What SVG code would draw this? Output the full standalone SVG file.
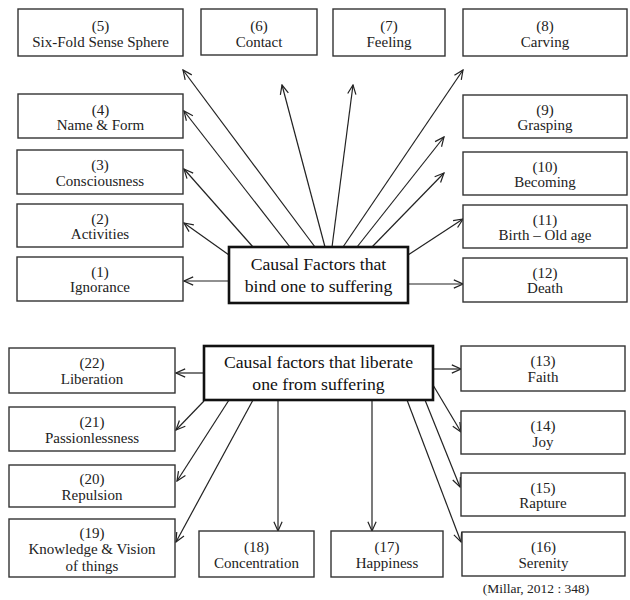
<svg xmlns="http://www.w3.org/2000/svg" width="630" height="600" viewBox="0 0 630 600">
  <style>
    text { font-family: 'Liberation Serif', 'Times New Roman', serif; text-anchor: middle; }
    .box { fill: #fff; stroke: #333; stroke-width: 1.4; }
    .hub { fill: #fff; stroke: #111; stroke-width: 2.6; }
    .lbl { font-size: 15px; fill: #222; }
    .hubtxt { font-size: 17.7px; fill: #111; }
    .cite { font-size: 13.5px; fill: #222; }
    .link { stroke: #222; stroke-width: 1.2; fill: none; marker-end: url(#arrow); }
  </style>
  <defs>
    <marker id="arrow" viewBox="0 0 12 12" refX="11" refY="6" markerWidth="11" markerHeight="11" markerUnits="userSpaceOnUse" orient="auto">
      <path d="M1,1.5 L11,6 L1,10.5" fill="none" stroke="#222" stroke-width="1.3"/>
    </marker>
  </defs>
  <rect width="630" height="600" fill="#fff"/>

  <!-- connectors -->
  <g id="connectors">
    <!-- binding factors -->
    <line class="link" x1="229" y1="281" x2="184" y2="281"/>
    <line class="link" x1="229" y1="255" x2="184" y2="223"/>
    <line class="link" x1="253" y1="247" x2="184" y2="169"/>
    <line class="link" x1="290" y1="247" x2="184" y2="111"/>
    <line class="link" x1="315" y1="247" x2="183" y2="70"/>
    <line class="link" x1="325" y1="247" x2="282" y2="85"/>
    <line class="link" x1="332" y1="247" x2="353" y2="85"/>
    <line class="link" x1="343" y1="247" x2="463" y2="70"/>
    <line class="link" x1="357" y1="247" x2="444" y2="137"/>
    <line class="link" x1="372" y1="247" x2="444" y2="173"/>
    <line class="link" x1="408" y1="255" x2="463" y2="219"/>
    <line class="link" x1="408" y1="284" x2="463" y2="284"/>
    <!-- liberating factors -->
    <line class="link" x1="204" y1="373" x2="176" y2="373"/>
    <line class="link" x1="204" y1="401" x2="176" y2="430"/>
    <line class="link" x1="229" y1="400" x2="177" y2="481"/>
    <line class="link" x1="253" y1="400" x2="176" y2="542"/>
    <line class="link" x1="278" y1="400" x2="278" y2="531"/>
    <line class="link" x1="372" y1="400" x2="372" y2="531"/>
    <line class="link" x1="407" y1="400" x2="461" y2="542"/>
    <line class="link" x1="425" y1="400" x2="460" y2="487"/>
    <line class="link" x1="433" y1="385" x2="461" y2="432"/>
    <line class="link" x1="433" y1="369" x2="461" y2="369"/>
  </g>

  <!-- hub: binding factors -->
  <g id="hub-bind">
    <rect class="hub" x="229" y="247" width="179" height="56"/>
    <text class="hubtxt" x="318.5" y="270">Causal Factors that</text>
    <text class="hubtxt" x="318.5" y="292">bind one to suffering</text>
  </g>

  <!-- hub: liberating factors -->
  <g id="hub-liberate">
    <rect class="hub" x="204" y="346" width="229" height="54"/>
    <text class="hubtxt" x="318.5" y="368">Causal factors that liberate</text>
    <text class="hubtxt" x="318.5" y="390">one from suffering</text>
  </g>

  <!-- top half nodes -->
  <g id="n5"><rect class="box" x="18" y="9" width="165" height="47"/><text class="lbl" x="100.5" y="31">(5)</text><text class="lbl" x="100.5" y="47">Six-Fold Sense Sphere</text></g>
  <g id="n6"><rect class="box" x="201" y="9" width="116" height="46"/><text class="lbl" x="259" y="31">(6)</text><text class="lbl" x="259" y="47">Contact</text></g>
  <g id="n7"><rect class="box" x="333" y="9" width="112" height="47"/><text class="lbl" x="389" y="31">(7)</text><text class="lbl" x="389" y="47">Feeling</text></g>
  <g id="n8"><rect class="box" x="463" y="9" width="164" height="47"/><text class="lbl" x="545" y="31">(8)</text><text class="lbl" x="545" y="47">Carving</text></g>
  <g id="n4"><rect class="box" x="18" y="94" width="165" height="44"/><text class="lbl" x="100.5" y="115">(4)</text><text class="lbl" x="100.5" y="130">Name &amp; Form</text></g>
  <g id="n9"><rect class="box" x="463" y="95" width="164" height="43"/><text class="lbl" x="545" y="115">(9)</text><text class="lbl" x="545" y="130">Grasping</text></g>
  <g id="n3"><rect class="box" x="17" y="150" width="166" height="44"/><text class="lbl" x="100" y="170">(3)</text><text class="lbl" x="100" y="186">Consciousness</text></g>
  <g id="n10"><rect class="box" x="463" y="152" width="164" height="43"/><text class="lbl" x="545" y="172">(10)</text><text class="lbl" x="545" y="187">Becoming</text></g>
  <g id="n2"><rect class="box" x="17" y="204" width="166" height="43"/><text class="lbl" x="100" y="224">(2)</text><text class="lbl" x="100" y="239">Activities</text></g>
  <g id="n11"><rect class="box" x="463" y="205" width="164" height="43"/><text class="lbl" x="545" y="225">(11)</text><text class="lbl" x="545" y="240">Birth – Old age</text></g>
  <g id="n1"><rect class="box" x="17" y="257" width="166" height="44"/><text class="lbl" x="100" y="277">(1)</text><text class="lbl" x="100" y="292">Ignorance</text></g>
  <g id="n12"><rect class="box" x="463" y="258" width="164" height="44"/><text class="lbl" x="545" y="278">(12)</text><text class="lbl" x="545" y="293">Death</text></g>

  <!-- bottom half nodes -->
  <g id="n22"><rect class="box" x="9" y="348" width="166" height="45"/><text class="lbl" x="92" y="368">(22)</text><text class="lbl" x="92" y="384">Liberation</text></g>
  <g id="n13"><rect class="box" x="461" y="346" width="164" height="45"/><text class="lbl" x="543" y="366">(13)</text><text class="lbl" x="543" y="382">Faith</text></g>
  <g id="n21"><rect class="box" x="9" y="407" width="166" height="44"/><text class="lbl" x="92" y="427">(21)</text><text class="lbl" x="92" y="443">Passionlessness</text></g>
  <g id="n14"><rect class="box" x="461" y="411" width="164" height="43"/><text class="lbl" x="543" y="431">(14)</text><text class="lbl" x="543" y="447">Joy</text></g>
  <g id="n20"><rect class="box" x="9" y="465" width="166" height="42"/><text class="lbl" x="92" y="484">(20)</text><text class="lbl" x="92" y="500">Repulsion</text></g>
  <g id="n15"><rect class="box" x="461" y="473" width="164" height="43"/><text class="lbl" x="543" y="493">(15)</text><text class="lbl" x="543" y="508">Rapture</text></g>
  <g id="n19"><rect class="box" x="9" y="519" width="166" height="58"/><text class="lbl" x="92" y="538">(19)</text><text class="lbl" x="92" y="554">Knowledge &amp; Vision</text><text class="lbl" x="92" y="571">of things</text></g>
  <g id="n18"><rect class="box" x="199" y="531" width="115" height="46"/><text class="lbl" x="256.5" y="552">(18)</text><text class="lbl" x="256.5" y="568">Concentration</text></g>
  <g id="n17"><rect class="box" x="331" y="531" width="112" height="46"/><text class="lbl" x="387" y="552">(17)</text><text class="lbl" x="387" y="568">Happiness</text></g>
  <g id="n16"><rect class="box" x="462" y="532" width="163" height="44"/><text class="lbl" x="543.5" y="552">(16)</text><text class="lbl" x="543.5" y="568">Serenity</text></g>

  <text class="cite" x="536" y="593">(Millar, 2012 : 348)</text>
</svg>
